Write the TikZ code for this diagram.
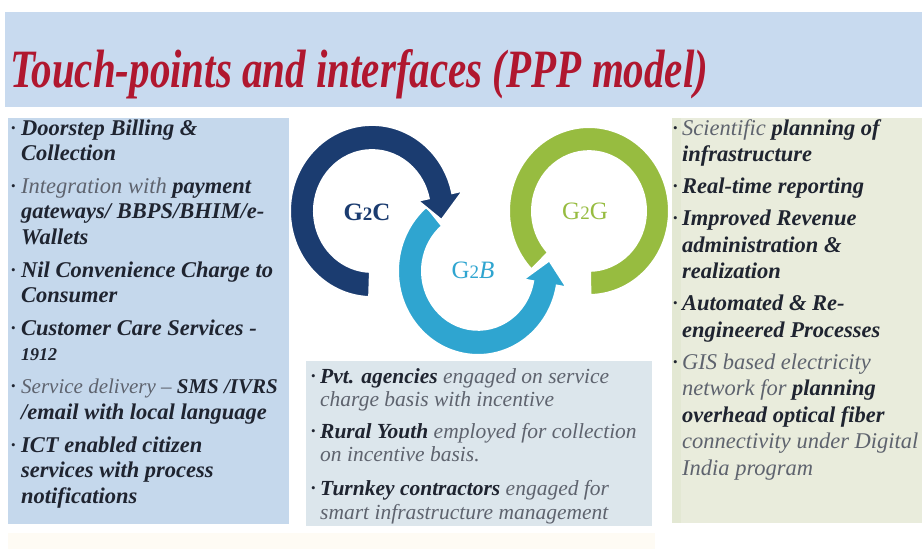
\documentclass[tikz,border=0pt]{standalone}
\usepackage{fontspec}
\setmainfont{Liberation Serif}
\usepackage{graphicx}
\definecolor{headbg}{HTML}{C8DAEF}
\definecolor{leftbg}{HTML}{C5D8EC}
\definecolor{rightbg}{HTML}{E9ECDC}
\definecolor{rightedge}{HTML}{E3E8D3}
\definecolor{midbg}{HTML}{DCE6EC}
\definecolor{footbg}{HTML}{FEFBF4}
\definecolor{navyc}{HTML}{1B3C70}
\definecolor{tealc}{HTML}{2FA5D0}
\definecolor{greenc}{HTML}{97BC40}
\definecolor{titlered}{HTML}{B0172F}
\definecolor{darktxt}{HTML}{1F2430}
\definecolor{litetxt}{HTML}{5E636E}
\newcommand{\lite}[1]{{\mdseries\color{litetxt}#1}}
\begin{document}
\begin{tikzpicture}[x=1pt,y=-1pt,
  txt/.style={anchor=base west, inner sep=0pt, text=darktxt,
    font=\fontsize{22.5}{24}\selectfont\bfseries\itshape},
  midtxt/.style={txt, font=\fontsize{21.5}{23}\selectfont\bfseries\itshape},
  bul/.style={anchor=base west, inner sep=0pt, text=darktxt, yshift=3pt,
    font=\fontsize{13}{14}\selectfont},
  ringlabel/.style={inner sep=0pt, font=\fontsize{25}{26}\selectfont},
  ring/.style={draw=white, line width=2pt, line join=miter},
]
% canvas
\useasboundingbox (0,0) rectangle (922,549);
\fill[white] (0,0) rectangle (922,549);

% header band and panels
\fill[headbg] (5,12) rectangle (922,107);
\fill[leftbg] (8,118) rectangle (289,524);
\fill[rightbg] (672,118) rectangle (922,523);
\fill[rightedge] (672,118) rectangle (681,523);
\fill[midbg] (306,361) rectangle (652,526);
\fill[footbg] (8,533) rectangle (655,549);

% title
\node[anchor=base west, inner sep=0pt, text=titlered] (title) at (10,87)
  {\resizebox{698pt}{38pt}{\fontsize{40}{48}\selectfont\bfseries\itshape Touch-points and interfaces (PPP model)}};

% G2G ring (no head)
\begin{scope}[shift={(589,211)}, y={(0pt,1.05pt)}]
  \fill[greenc, ring] (-89:80) arc[start angle=-89, end angle=224, x radius=80pt, y radius=84pt]
    -- (224:57) arc[start angle=224, end angle=-89, x radius=57pt, y radius=59.85pt] -- cycle;
  \node[ringlabel, text=greenc] (g2g) at (-4,0) {G{\fontsize{19}{20}\selectfont 2}G};
\end{scope}

% G2B arrow
\begin{scope}[shift={(478,271)}, y={(0pt,1.05pt)}]
  \fill[tealc, ring] (130:80) arc[start angle=130, end angle=350, x radius=80pt, y radius=84pt]
    -- (350:90) -- (8:72) -- (350:46) -- (350:56)
    arc[start angle=350, end angle=130, x radius=56pt, y radius=58.8pt] -- cycle;
  \node[ringlabel, text=tealc] (g2b) at (-5,1) {G{\fontsize{19}{20}\selectfont 2}\textit{B}};
\end{scope}

% G2C arrow
\begin{scope}[shift={(372,211)}, y={(0pt,1.05pt)}]
  \fill[navyc, ring] (268:82) arc[start angle=268, end angle=12, x radius=82pt, y radius=86.1pt]
    -- (12:93) -- (-7:70) -- (12:47) -- (12:58)
    arc[start angle=12, end angle=268, x radius=58pt, y radius=60.9pt] -- cycle;
  \node[ringlabel, text=navyc, font=\fontsize{25}{26}\selectfont\bfseries] (g2c) at (-5,-1) {G{\fontsize{19}{20}\selectfont 2}C};
\end{scope}

% left panel: G2C touch-points
\node[bul] (lb1) at (11,135) {\textbullet};
\node[txt] (l1) at (21,135) {Doorstep Billing \&};
\node[txt] (l2) at (21,160.5) {Collection};
\node[bul] (lb2) at (11,193.3) {\textbullet};
\node[txt] (l3) at (21,193.3) {\lite{Integration with} payment};
\node[txt] (l4) at (21,218.8) {gateways/ BBPS/BHIM/e-};
\node[txt] (l5) at (21,244.3) {Wallets};
\node[bul] (lb3) at (11,277.1) {\textbullet};
\node[txt] (l6) at (21,277.1) {Nil Convenience Charge to};
\node[txt] (l7) at (21,302.6) {Consumer};
\node[bul] (lb4) at (11,335.4) {\textbullet};
\node[txt] (l8) at (21,335.4) {Customer Care Services -};
\node[txt] (l9) at (21,360.9) {{\fontsize{18}{20}\selectfont 1912}};
\node[bul] (lb5) at (11,393.7) {\textbullet};
\node[txt, font=\fontsize{21}{23}\selectfont\bfseries\itshape] (l10) at (21,393.7) {\lite{Service delivery –} SMS /IVRS};
\node[txt] (l11) at (21,419.2) {/email with local language};
\node[bul] (lb6) at (11,452) {\textbullet};
\node[txt] (l12) at (21,452) {ICT enabled citizen};
\node[txt] (l13) at (21,477.5) {services with process};
\node[txt] (l14) at (21,503) {notifications};

% middle box: G2B partners
\node[bul] (mb1) at (311,383) {\textbullet};
\node[midtxt] (m1) at (320,383) {Pvt. agencies \lite{engaged on service}};
\node[midtxt] (m2) at (320,406) {\lite{charge basis with incentive}};
\node[bul] (mb2) at (311,438) {\textbullet};
\node[midtxt] (m3) at (320,438) {Rural Youth \lite{employed for collection}};
\node[midtxt] (m4) at (320,461) {\lite{on incentive basis.}};
\node[bul] (mb3) at (311,495) {\textbullet};
\node[midtxt] (m5) at (320,495) {Turnkey contractors \lite{engaged for}};
\node[midtxt] (m6) at (320,519) {\lite{smart infrastructure management}};

% right panel: G2G
\node[bul] (rb1) at (673,135) {\textbullet};
\node[txt] (r1) at (682,135) {\lite{Scientific} planning of};
\node[txt] (r2) at (682,161.5) {infrastructure};
\node[bul] (rb2) at (673,193.5) {\textbullet};
\node[txt] (r3) at (682,193.5) {Real-time reporting};
\node[bul] (rb3) at (673,225.5) {\textbullet};
\node[txt] (r4) at (682,225.5) {Improved Revenue};
\node[txt] (r5) at (682,252) {administration \&};
\node[txt] (r6) at (682,278.5) {realization};
\node[bul] (rb4) at (673,310.5) {\textbullet};
\node[txt] (r7) at (682,310.5) {Automated \& Re-};
\node[txt] (r8) at (682,337) {engineered Processes};
\node[bul] (rb5) at (673,369) {\textbullet};
\node[txt] (r9) at (682,369) {\lite{GIS based electricity}};
\node[txt] (r10) at (682,395.5) {\lite{network for} planning};
\node[txt] (r11) at (682,422) {overhead optical fiber};
\node[txt] (r12) at (682,448.5) {\lite{connectivity under Digital}};
\node[txt] (r13) at (682,475) {\lite{India program}};
\end{tikzpicture}
\end{document}
